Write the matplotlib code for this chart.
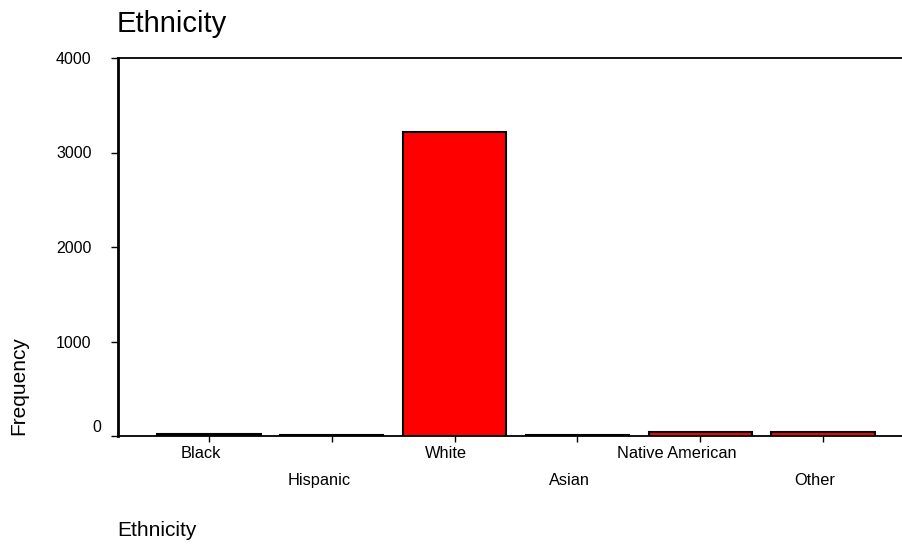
import matplotlib
matplotlib.use("Agg")
import matplotlib.pyplot as plt
from matplotlib.transforms import ScaledTranslation

categories = ["Black", "Hispanic", "White", "Asian", "Native American", "Other"]
counts = [18, 15, 3220, 14, 40, 38]
yticks = [0, 1000, 2000, 3000, 4000]

plt.rcParams['font.family'] = ['Liberation Sans', 'DejaVu Sans']

W, H = 903, 544
DPI = 100
fig = plt.figure(figsize=(W / DPI, H / DPI), dpi=DPI)
ax = fig.add_axes([118 / W, 1 - 436 / H, (W - 118) / W + 0.01, (436 - 58) / H])

x = list(range(len(categories)))
ax.bar(x, counts, width=0.84, color="#ff0000", edgecolor="black", linewidth=1.5, zorder=3)

ax.set_xlim(-0.741, 5.651 + 0.01 * W / 122.8)
ax.set_ylim(0, 4000)

# y axis
ax.set_yticks(yticks)
ax.set_yticklabels([str(v) for v in yticks])
ax.tick_params(axis='y', direction='out', length=5, width=1, pad=14, labelsize=11.5, colors='black')

# staggered x labels via major/minor ticks
ax.set_xticks(x[0::2])
ax.set_xticklabels(categories[0::2])
ax.set_xticks(x[1::2], minor=True)
ax.set_xticklabels(categories[1::2], minor=True)
ax.tick_params(axis='x', which='both', direction='out', length=4, width=1, labelsize=11.8, colors='black')
ax.tick_params(axis='x', which='major', pad=3)
ax.tick_params(axis='x', which='minor', pad=22.5)

ax.spines['right'].set_visible(False)
ax.spines['left'].set_linewidth(2)
ax.spines['bottom'].set_linewidth(1.3)
ax.spines['top'].set_linewidth(1.3)
ax.spines['top'].set_color('black')

fig.text(117 / W, 1 - 24 / H, "Ethnicity", fontsize=21, ha='left', va='center')
fig.text(117 / W, 1 - 531 / H, "Ethnicity", fontsize=15, ha='left', va='center')
fig.text(19 / W, 1 - 386 / H, "Frequency", fontsize=15, rotation=90, ha='center', va='center')

# the original software places category labels slightly left of their ticks
fig.canvas.draw()
renderer = fig.canvas.get_renderer()
for lab in ax.get_xticklabels() + ax.get_xticklabels(minor=True):
    w = lab.get_window_extent(renderer).width
    lab.set_transform(lab.get_transform() + ScaledTranslation(-0.2 * w / DPI, 0, fig.dpi_scale_trans))
for lab in ax.get_yticklabels():
    if lab.get_text() == "0":
        lab.set_transform(lab.get_transform() + ScaledTranslation(0.10, 0.10, fig.dpi_scale_trans))

fig.savefig("out.png", dpi=DPI)
